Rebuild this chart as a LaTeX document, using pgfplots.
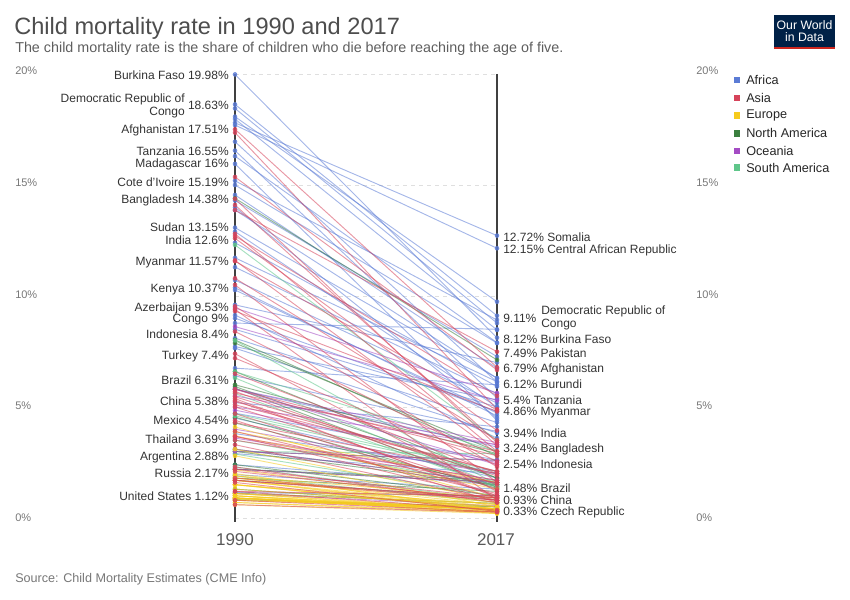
\documentclass[border=0pt]{standalone}
\usepackage{pgfplots}
\pgfplotsset{compat=1.18}
\usepackage{pgfplotstable}
\usepackage{fontspec}
\setmainfont{Liberation Sans}
\definecolor{cafrica}{HTML}{5B7BD5}
\definecolor{casia}{HTML}{D6435A}
\definecolor{ceurope}{HTML}{F6CB1D}
\definecolor{cnam}{HTML}{3B7F3F}
\definecolor{coceania}{HTML}{A44CC4}
\definecolor{csam}{HTML}{5FC68A}
\definecolor{labgray}{HTML}{333333}
\definecolor{titlegray}{HTML}{4D4D4D}
\definecolor{subgray}{HTML}{5E5E5E}
\definecolor{tickgray}{HTML}{777777}
\definecolor{owidblue}{HTML}{002147}
\definecolor{owidred}{HTML}{CE261E}

% child mortality rate (%) in 1990 (a) and 2017 (b)
\pgfplotstableread{
a b
19.98 8.12
18.63 9.11
18.45 8.78
18.08 9.74
17.97 8.47
17.80 12.72
17.70 12.15
16.95 6.12
16.55 5.40
16.30 7.90
15.95 4.40
15.19 8.92
15.00 7.88
14.55 6.75
14.30 7.27
14.00 4.50
13.87 6.30
13.08 6.30
12.90 5.00
12.40 5.92
11.72 6.14
11.30 5.60
10.72 5.18
10.37 4.60
10.27 4.73
9.60 7.00
9.14 3.60
9.00 4.80
8.78 8.50
8.50 5.00
8.10 4.30
7.72 5.32
7.65 3.83
6.75 6.00
6.40 3.90
5.80 3.20
5.20 4.11
4.72 2.61
4.50 1.80
3.80 2.10
2.90 2.00
2.40 1.50
1.95 1.30
1.15 1.00
}\tafrica
\pgfplotstableread{
a b
17.51 6.79
17.36 4.90
15.36 6.67
14.38 3.24
14.10 3.40
13.87 7.49
12.80 3.00
12.70 5.50
12.60 3.94
11.60 2.90
11.57 4.86
10.80 3.50
10.50 1.60
9.53 2.30
9.32 4.80
9.40 0.80
8.40 2.54
7.40 1.20
7.20 2.40
6.50 2.00
5.80 2.80
5.70 1.50
5.63 3.00
5.46 1.90
5.38 0.93
5.30 1.00
5.24 2.10
5.10 2.10
5.00 1.30
4.70 1.00
4.40 0.70
4.30 2.00
3.90 1.10
3.69 0.90
3.66 1.70
3.51 1.60
3.30 0.80
2.30 0.70
2.20 0.90
2.10 0.80
1.80 0.80
1.70 0.90
1.70 0.80
1.60 0.30
1.20 1.00
1.20 0.36
0.80 0.28
0.60 0.26
}\tasia
\pgfplotstableread{
a b
4.10 0.90
3.89 1.60
3.70 1.30
3.10 0.80
2.80 0.50
2.17 0.70
2.00 0.30
1.90 0.90
1.90 0.40
1.80 0.70
1.80 0.60
1.71 0.30
1.70 0.40
1.70 0.50
1.50 0.40
1.50 0.60
1.50 0.33
1.50 0.37
1.30 0.50
1.10 0.33
1.10 0.40
1.10 0.66
1.00 0.20
1.00 0.33
1.00 0.40
1.00 0.36
0.90 0.43
0.90 0.40
0.90 0.26
0.90 0.43
0.90 0.37
0.90 0.27
0.90 0.29
0.85 0.37
0.80 0.40
0.80 0.40
0.70 0.28
0.70 0.23
0.60 0.20
}\teurope
\pgfplotstableread{
a b
14.40 7.12
8.02 2.80
7.88 3.00
6.60 1.80
6.00 2.90
5.92 1.80
5.85 1.40
4.54 1.34
4.28 1.40
3.10 1.60
3.00 1.50
3.00 2.60
2.40 1.00
2.20 1.60
2.20 1.70
1.80 1.20
1.70 0.90
1.30 0.50
1.12 0.66
0.83 0.50
}\tnam
\pgfplotstableread{
a b
9.46 5.63
8.62 5.30
5.80 2.40
5.80 3.40
5.50 3.30
5.00 3.30
4.86 2.50
4.00 2.00
3.60 1.70
3.10 1.60
3.00 2.60
2.20 1.60
1.10 0.55
0.90 0.35
}\toceania
\pgfplotstableread{
a b
12.30 3.50
8.00 1.50
6.59 3.00
6.31 1.48
5.60 1.40
4.70 2.10
4.60 2.00
3.50 1.50
3.00 2.90
2.88 0.99
2.30 0.80
1.90 0.70
}\tsam

\tikzset{
  lab/.style={inner sep=0pt, text=labgray, font=\fontsize{9}{9.75}\selectfont},
  tick/.style={inner sep=0pt, text=tickgray, font=\fontsize{8.25}{9}\selectfont, anchor=west},
}
\pgfplotsset{
  slope/.style={line width=0.7pt, draw opacity=0.55, quiver={u=262, v=\thisrow{b}-\thisrow{a}}},
  dot/.style={only marks, mark=*, mark size=1.5pt, opacity=0.8},
}
\newcommand\continent[2]{%
  \addplot[slope, draw=#1] table[x expr=235, y=a] {#2};
  \addplot[dot, color=#1] table[x expr=235, y=a] {#2};
  \addplot[dot, color=#1] table[x expr=497, y=b] {#2};
}

\begin{document}
\begin{tikzpicture}
\begin{axis}[
  width=637.5pt, height=450pt, scale only axis, hide axis, clip=false,
  xmin=0, xmax=850, ymin=-3.6937, ymax=23.3333,
]
% full-size bounding box
\path (rel axis cs:0,0) rectangle (rel axis cs:1,1);
% grid
\foreach \g in {0,5,10,15,20}{
  \edef\tmp{\noexpand\draw[gray!25, line width=0.6pt, dash pattern=on 3pt off 3pt] (axis cs:235,\g) -- (axis cs:497,\g);}
  \tmp
}
% vertical axes
\draw[line width=1.1pt, color=black!75] (axis cs:235,20) -- (axis cs:235,-0.18);
\draw[line width=1.1pt, color=black!75] (axis cs:497,20) -- (axis cs:497,-0.18);

\continent{cafrica}{\tafrica}
\continent{cnam}{\tnam}
\continent{csam}{\tsam}
\continent{coceania}{\toceania}
\continent{ceurope}{\teurope}
\continent{casia}{\tasia}

% y tick labels
\node[tick] at (axis cs:15,20.14) {20\%};
\node[tick] at (axis cs:15,15.08) {15\%};
\node[tick] at (axis cs:15,10.05) {10\%};
\node[tick] at (axis cs:15,5.05) {5\%};
\node[tick] at (axis cs:15,0.01) {0\%};
\node[tick] at (axis cs:696,20.14) {20\%};
\node[tick] at (axis cs:696,15.08) {15\%};
\node[tick] at (axis cs:696,10.05) {10\%};
\node[tick] at (axis cs:696,5.05) {5\%};
\node[tick] at (axis cs:696,0.01) {0\%};

% year labels
\node[inner sep=0pt, text=black!65, font=\fontsize{12.75}{14}\selectfont] at (axis cs:235,-0.99) {1990};
\node[inner sep=0pt, text=black!65, font=\fontsize{12.75}{14}\selectfont] at (axis cs:496,-0.99) {2017};

% left labels (1990)
\node[lab, anchor=east] at (axis cs:229,19.95) {Burkina Faso 19.98\%};
\node[lab, anchor=east] at (axis cs:229,18.60) {18.63\%};
\node[lab, anchor=east, align=right] at (axis cs:185,18.58) {Democratic Republic of\\Congo};
\node[lab, anchor=east] at (axis cs:229,17.48) {Afghanistan 17.51\%};
\node[lab, anchor=east] at (axis cs:229,16.53) {Tanzania 16.55\%};
\node[lab, anchor=east] at (axis cs:229,15.95) {Madagascar 16\%};
\node[lab, anchor=east] at (axis cs:229,15.14) {Cote d'Ivoire 15.19\%};
\node[lab, anchor=east] at (axis cs:229,14.32) {Bangladesh 14.38\%};
\node[lab, anchor=east] at (axis cs:229,13.11) {Sudan 13.15\%};
\node[lab, anchor=east] at (axis cs:229,12.52) {India 12.6\%};
\node[lab, anchor=east] at (axis cs:229,11.49) {Myanmar 11.57\%};
\node[lab, anchor=east] at (axis cs:229,10.27) {Kenya 10.37\%};
\node[lab, anchor=east] at (axis cs:229,9.46) {Azerbaijan 9.53\%};
\node[lab, anchor=east] at (axis cs:229,8.92) {Congo 9\%};
\node[lab, anchor=east] at (axis cs:229,8.29) {Indonesia 8.4\%};
\node[lab, anchor=east] at (axis cs:229,7.30) {Turkey 7.4\%};
\node[lab, anchor=east] at (axis cs:229,6.22) {Brazil 6.31\%};
\node[lab, anchor=east] at (axis cs:229,5.27) {China 5.38\%};
\node[lab, anchor=east] at (axis cs:229,4.41) {Mexico 4.54\%};
\node[lab, anchor=east] at (axis cs:229,3.56) {Thailand 3.69\%};
\node[lab, anchor=east] at (axis cs:229,2.75) {Argentina 2.88\%};
\node[lab, anchor=east] at (axis cs:229,2.03) {Russia 2.17\%};
\node[lab, anchor=east] at (axis cs:229,0.99) {United States 1.12\%};

% right labels (2017)
\node[lab, anchor=west] at (axis cs:503,12.66) {12.72\% Somalia};
\node[lab, anchor=west] at (axis cs:503,12.07) {12.15\% Central African Republic};
\node[lab, anchor=west] at (axis cs:503,9.01) {9.11\%};
\node[lab, anchor=west, align=left] at (axis cs:541,9.03) {Democratic Republic of\\Congo};
\node[lab, anchor=west] at (axis cs:503,8.06) {8.12\% Burkina Faso};
\node[lab, anchor=west] at (axis cs:503,7.43) {7.49\% Pakistan};
\node[lab, anchor=west] at (axis cs:503,6.71) {6.79\% Afghanistan};
\node[lab, anchor=west] at (axis cs:503,6.04) {6.12\% Burundi};
\node[lab, anchor=west] at (axis cs:503,5.32) {5.4\% Tanzania};
\node[lab, anchor=west] at (axis cs:503,4.77) {4.86\% Myanmar};
\node[lab, anchor=west] at (axis cs:503,3.83) {3.94\% India};
\node[lab, anchor=west] at (axis cs:503,3.11) {3.24\% Bangladesh};
\node[lab, anchor=west] at (axis cs:503,2.43) {2.54\% Indonesia};
\node[lab, anchor=west] at (axis cs:503,1.35) {1.48\% Brazil};
\node[lab, anchor=west] at (axis cs:503,0.81) {0.93\% China};
\node[lab, anchor=west] at (axis cs:503,0.23) {0.33\% Czech Republic};

% legend
\foreach \c/\t/\y in {cafrica/Africa/19.73, casia/Asia/18.92, ceurope/Europe/18.11, cnam/North America/17.34, coceania/Oceania/16.53, csam/South America/15.77}{
  \edef\tmp{\noexpand\fill[\c] (axis cs:733.5,\y) ++(0pt,-2.6pt) rectangle ++(5.2pt,5.2pt);
    \noexpand\node[inner sep=0pt, anchor=west, text=black!85, font=\noexpand\fontsize{9.5}{11}\noexpand\selectfont] at (axis cs:746,\y) {\t};}
  \tmp
}

% titles
\node[inner sep=0pt, anchor=base west, text=titlegray, font=\fontsize{17.7}{20}\selectfont] at (axis cs:14,21.757) {Child mortality rate in 1990 and 2017};
\node[inner sep=0pt, anchor=base west, text=subgray, font=\fontsize{10.75}{12}\selectfont] at (axis cs:15,20.946) {The child mortality rate is the share of children who die before reaching the age of five.};
\node[inner sep=0pt, anchor=base west, text=tickgray, font=\fontsize{9.45}{11}\selectfont] at (axis cs:15,-2.883) {Source: Child Mortality Estimates (CME Info)};

% logo
\fill[owidblue] (axis cs:774,22.658) rectangle (axis cs:835,21.216);
\fill[owidred] (axis cs:774,21.216) rectangle (axis cs:835,21.104);
\node[inner sep=0pt, text=white, font=\fontsize{9.2}{10}\selectfont] at (axis cs:804.5,22.207) {Our World};
\node[inner sep=0pt, text=white, font=\fontsize{9.2}{10}\selectfont] at (axis cs:804.5,21.667) {in Data};
\end{axis}
\end{tikzpicture}
\end{document}
